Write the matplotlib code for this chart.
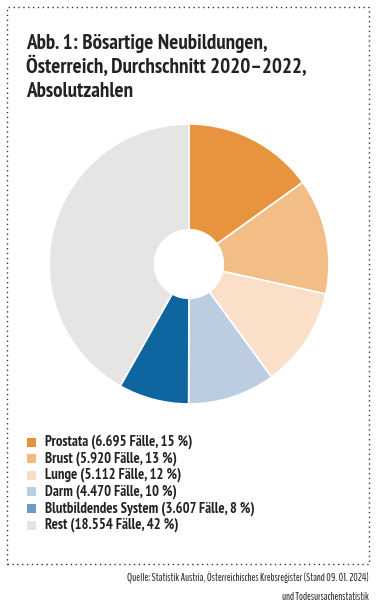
import matplotlib.pyplot as plt
import matplotlib.patches as mpatches
from matplotlib import font_manager

# Data
categories = ['Prostata', 'Brust', 'Lunge', 'Darm', 'Blutbildendes System', 'Rest']
cases = [6695, 5920, 5112, 4470, 3607, 18554]
case_labels = ['6.695', '5.920', '5.112', '4.470', '3.607', '18.554']
shares = [15, 13, 12, 10, 8, 42]

pie_colours = ['#E8943F', '#F2BE86', '#FAE0C9', '#BCCCE1', '#0E65A0', '#E6E5E3']
legend_colours = ['#E8913A', '#F2BA80', '#F8DCC4', '#BCCDE2', '#6E9AC6', '#E4E4E4']

names = {f.name for f in font_manager.fontManager.ttflist}

def pick(cands):
    for c in cands:
        if c in names:
            return c
    return 'DejaVu Sans'

bold_font = pick(['PT Sans Narrow', 'Fira Sans Condensed', 'Roboto Condensed', 'Archivo Narrow', 'Asap Condensed'])
light_font = pick(['Saira Extra Condensed', 'BenchNine', 'Pathway Gothic One', 'Fira Sans Extra Condensed',
                   'Barlow Condensed', 'PT Sans Narrow'])

W, H = 380, 614
fig = plt.figure(figsize=(W / 100, H / 100), dpi=100)
renderer = fig.canvas.get_renderer()

def fx(x):
    return x / W

def fy(y):
    return 1 - y / H

def fit(txt, width_px, min_size=0):
    # shrink/grow a text so it spans the given width
    w = txt.get_window_extent(renderer=renderer).width
    txt.set_fontsize(max(min_size, txt.get_fontsize() * width_px / w))

# dotted frame
frame = mpatches.Rectangle((fx(7), fy(564)), fx(369) - fx(7), fy(7) - fy(564),
                           transform=fig.transFigure, fill=False,
                           edgecolor='#333333', linestyle=(0, (1, 2.5)), linewidth=1.0)
fig.add_artist(frame)

# title
title_lines = ['Abb. 1: Bösartige Neubildungen,', 'Österreich, Durchschnitt 2020–2022,', 'Absolutzahlen']
probe = fig.text(0, 0, title_lines[1], family=bold_font, weight='bold', fontsize=16)
fit(probe, 281)
tsize = probe.get_fontsize()
probe.remove()
for i, line in enumerate(title_lines):
    fig.text(fx(26), fy(49 + i * 24), line, family=bold_font, weight='bold',
             fontsize=tsize, color='#222222', ha='left', va='baseline')

# donut
cx, cy, r = 189, 264, 140
ax = fig.add_axes([fx(cx - r), fy(cy + r), 2 * r / W, 2 * r / H])
ax.pie(cases, colors=pie_colours, startangle=90, counterclock=False,
       radius=1, wedgeprops=dict(width=0.755, edgecolor='white', linewidth=1.2))
ax.set_xlim(-1, 1)
ax.set_ylim(-1, 1)
ax.set_aspect('equal')
ax.set_axis_off()

# legend
for i, (cat, lab, pct, col) in enumerate(zip(categories, case_labels, shares, legend_colours)):
    y = 442 + i * 16.6
    sq = mpatches.Rectangle((fx(27), fy(y + 4.5)), fx(9), 9 / H,
                            transform=fig.transFigure, facecolor=col, edgecolor='none')
    fig.add_artist(sq)
    fig.text(fx(45), fy(y), f'{cat} ({lab} Fälle, {pct} %)', family=bold_font, weight='bold',
             fontsize=10.5, color='#222222', ha='left', va='center')

# source
s1 = fig.text(fx(369), fy(582), 'Quelle: Statistik Austria, Österreichisches Krebsregister (Stand 09. 01. 2024)',
              family=light_font, fontsize=9, color='#222222', ha='right', va='baseline')
fit(s1, 212, min_size=8.0)
fig.text(fx(369), fy(600), 'und Todesursachenstatistik',
         family=light_font, fontsize=s1.get_fontsize(), color='#222222', ha='right', va='baseline')

plt.savefig('out.png', dpi=100)
